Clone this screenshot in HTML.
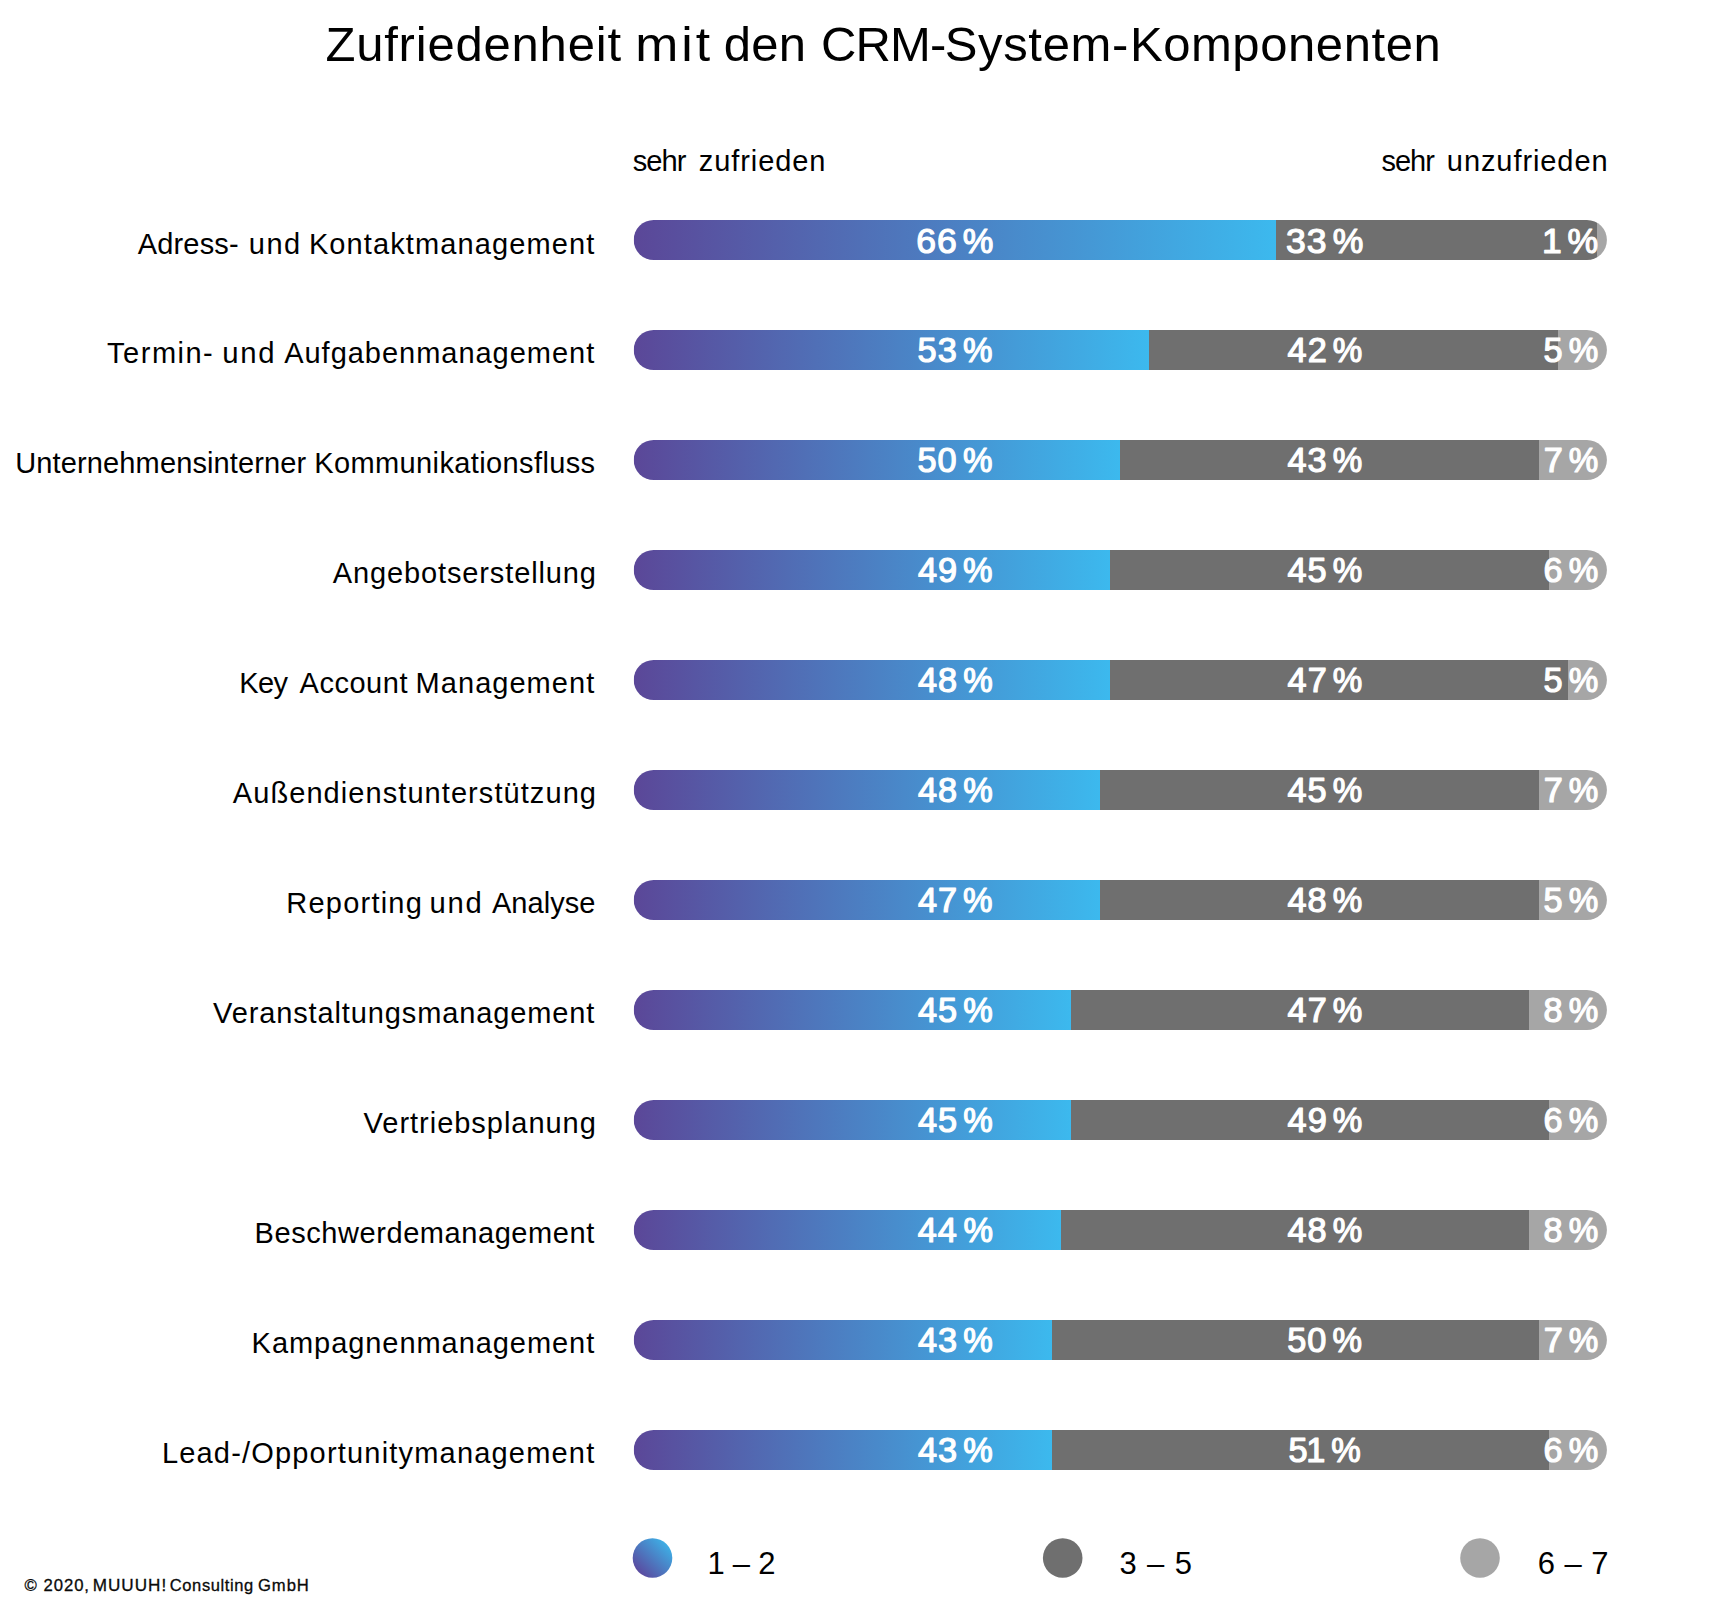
<!DOCTYPE html>
<html lang="de">
<head>
<meta charset="utf-8">
<title>Zufriedenheit mit den CRM-System-Komponenten</title>
<style>
html,body{margin:0;padding:0;background:#fff}
body{width:1713px;height:1610px;overflow:hidden;font-family:"Liberation Sans",Arial,sans-serif}
svg{display:block}
text{white-space:pre}
</style>
</head>
<body>
<svg width="1713" height="1610" viewBox="0 0 1713 1610" font-family="'Liberation Sans', Arial, sans-serif">
<defs>
<linearGradient id="gb" x1="0" y1="0" x2="1" y2="0"><stop offset="0" stop-color="#5b4798"/><stop offset="1" stop-color="#3cb9ee"/></linearGradient>
<linearGradient id="gc" x1="0.15" y1="0.85" x2="0.85" y2="0.15"><stop offset="0" stop-color="#5a4ba0"/><stop offset="1" stop-color="#3eade4"/></linearGradient>
<clipPath id="c0"><rect x="633.7" y="220" width="973.2" height="40" rx="20" ry="20"/></clipPath>
<clipPath id="c1"><rect x="633.7" y="330" width="973.2" height="40" rx="20" ry="20"/></clipPath>
<clipPath id="c2"><rect x="633.7" y="440" width="973.2" height="40" rx="20" ry="20"/></clipPath>
<clipPath id="c3"><rect x="633.7" y="550" width="973.2" height="40" rx="20" ry="20"/></clipPath>
<clipPath id="c4"><rect x="633.7" y="660" width="973.2" height="40" rx="20" ry="20"/></clipPath>
<clipPath id="c5"><rect x="633.7" y="770" width="973.2" height="40" rx="20" ry="20"/></clipPath>
<clipPath id="c6"><rect x="633.7" y="880" width="973.2" height="40" rx="20" ry="20"/></clipPath>
<clipPath id="c7"><rect x="633.7" y="990" width="973.2" height="40" rx="20" ry="20"/></clipPath>
<clipPath id="c8"><rect x="633.7" y="1100" width="973.2" height="40" rx="20" ry="20"/></clipPath>
<clipPath id="c9"><rect x="633.7" y="1210" width="973.2" height="40" rx="20" ry="20"/></clipPath>
<clipPath id="c10"><rect x="633.7" y="1320" width="973.2" height="40" rx="20" ry="20"/></clipPath>
<clipPath id="c11"><rect x="633.7" y="1430" width="973.2" height="40" rx="20" ry="20"/></clipPath>
</defs>
<rect width="1713" height="1610" fill="#fff"/>
<g clip-path="url(#c0)"><rect x="633.7" y="220" width="642.3" height="40" fill="url(#gb)"/><rect x="1276" y="220" width="321" height="40" fill="#6f6f6f"/><rect x="1597" y="220" width="10.9" height="40" fill="#a6a6a6"/></g>
<g clip-path="url(#c1)"><rect x="633.7" y="330" width="515.3" height="40" fill="url(#gb)"/><rect x="1149" y="330" width="409" height="40" fill="#6f6f6f"/><rect x="1558" y="330" width="49.9" height="40" fill="#a6a6a6"/></g>
<g clip-path="url(#c2)"><rect x="633.7" y="440" width="486.3" height="40" fill="url(#gb)"/><rect x="1120" y="440" width="419" height="40" fill="#6f6f6f"/><rect x="1539" y="440" width="68.9" height="40" fill="#a6a6a6"/></g>
<g clip-path="url(#c3)"><rect x="633.7" y="550" width="476.3" height="40" fill="url(#gb)"/><rect x="1110" y="550" width="439" height="40" fill="#6f6f6f"/><rect x="1549" y="550" width="58.9" height="40" fill="#a6a6a6"/></g>
<g clip-path="url(#c4)"><rect x="633.7" y="660" width="476.3" height="40" fill="url(#gb)"/><rect x="1110" y="660" width="458" height="40" fill="#6f6f6f"/><rect x="1568" y="660" width="39.9" height="40" fill="#a6a6a6"/></g>
<g clip-path="url(#c5)"><rect x="633.7" y="770" width="466.3" height="40" fill="url(#gb)"/><rect x="1100" y="770" width="439" height="40" fill="#6f6f6f"/><rect x="1539" y="770" width="68.9" height="40" fill="#a6a6a6"/></g>
<g clip-path="url(#c6)"><rect x="633.7" y="880" width="466.3" height="40" fill="url(#gb)"/><rect x="1100" y="880" width="439" height="40" fill="#6f6f6f"/><rect x="1539" y="880" width="68.9" height="40" fill="#a6a6a6"/></g>
<g clip-path="url(#c7)"><rect x="633.7" y="990" width="437.3" height="40" fill="url(#gb)"/><rect x="1071" y="990" width="458" height="40" fill="#6f6f6f"/><rect x="1529" y="990" width="78.9" height="40" fill="#a6a6a6"/></g>
<g clip-path="url(#c8)"><rect x="633.7" y="1100" width="437.3" height="40" fill="url(#gb)"/><rect x="1071" y="1100" width="478" height="40" fill="#6f6f6f"/><rect x="1549" y="1100" width="58.9" height="40" fill="#a6a6a6"/></g>
<g clip-path="url(#c9)"><rect x="633.7" y="1210" width="427.3" height="40" fill="url(#gb)"/><rect x="1061" y="1210" width="468" height="40" fill="#6f6f6f"/><rect x="1529" y="1210" width="78.9" height="40" fill="#a6a6a6"/></g>
<g clip-path="url(#c10)"><rect x="633.7" y="1320" width="418.3" height="40" fill="url(#gb)"/><rect x="1052" y="1320" width="487" height="40" fill="#6f6f6f"/><rect x="1539" y="1320" width="68.9" height="40" fill="#a6a6a6"/></g>
<g clip-path="url(#c11)"><rect x="633.7" y="1430" width="418.3" height="40" fill="url(#gb)"/><rect x="1052" y="1430" width="497" height="40" fill="#6f6f6f"/><rect x="1549" y="1430" width="58.9" height="40" fill="#a6a6a6"/></g>
<circle cx="652.5" cy="1558" r="19.8" fill="url(#gc)"/>
<circle cx="1062.7" cy="1558" r="19.8" fill="#6f6f6f"/>
<circle cx="1480" cy="1558" r="19.8" fill="#a6a6a6"/>
<text y="60.7" font-size="49" fill="#000"><tspan x="325.41" letter-spacing="0.798">Zufriedenheit</tspan> <tspan x="635.18" letter-spacing="2.842" textLength="77.88" lengthAdjust="spacingAndGlyphs">mit</tspan> <tspan x="723.85" letter-spacing="0.245">den</tspan> <tspan x="821.06" letter-spacing="-0.886">CRM-</tspan><tspan x="944.77" letter-spacing="0.642">System-</tspan><tspan x="1129.89" letter-spacing="0.571">Komponenten</tspan></text>
<text y="170.7" font-size="29" fill="#000"><tspan x="632.83" letter-spacing="-1.015" textLength="52.49" lengthAdjust="spacingAndGlyphs">sehr</tspan> <tspan x="698.87" letter-spacing="0.902">zufrieden</tspan></text>
<text y="170.7" font-size="29" fill="#000"><tspan x="1381.48" letter-spacing="-1.015" textLength="52.33" lengthAdjust="spacingAndGlyphs">sehr</tspan> <tspan x="1446.85" letter-spacing="0.919">unzufrieden</tspan></text>
<text y="253.9" font-size="29" fill="#000"><tspan x="137.68" letter-spacing="0.182">Adress-</tspan> <tspan x="248.85" letter-spacing="1.424">und</tspan> <tspan x="308.91" letter-spacing="1.106">Kontaktmanagement</tspan></text>
<text y="362.8" font-size="29" fill="#000"><tspan x="107.1" letter-spacing="1.501">Termin-</tspan> <tspan x="222.36" letter-spacing="1.682" textLength="54.00" lengthAdjust="spacingAndGlyphs">und</tspan> <tspan x="284.18" letter-spacing="0.976">Aufgabenmanagement</tspan></text>
<text y="472.8" font-size="29" fill="#000"><tspan x="15.31" letter-spacing="0.125">Unternehmensinterner</tspan> <tspan x="314.27" letter-spacing="0.381">Kommunikationsfluss</tspan></text>
<text y="582.8" font-size="29" fill="#000"><tspan x="332.8" letter-spacing="0.875">Angebotserstellung</tspan></text>
<text y="692.8" font-size="29" fill="#000"><tspan x="239.3" letter-spacing="-0.628">Key</tspan> <tspan x="299.54" letter-spacing="0.520">Account</tspan> <tspan x="415.62" letter-spacing="1.036">Management</tspan></text>
<text y="802.8" font-size="29" fill="#000"><tspan x="232.8" letter-spacing="1.070">Außendienstunterstützung</tspan></text>
<text y="912.8" font-size="29" fill="#000"><tspan x="286.3" letter-spacing="1.221">Reporting</tspan> <tspan x="429.53" letter-spacing="1.682" textLength="53.83" lengthAdjust="spacingAndGlyphs">und</tspan> <tspan x="491.97" letter-spacing="0.060">Analyse</tspan></text>
<text y="1022.8" font-size="29" fill="#000"><tspan x="213.07" letter-spacing="0.873">Veranstaltungsmanagement</tspan></text>
<text y="1132.8" font-size="29" fill="#000"><tspan x="363.62" letter-spacing="0.972">Vertriebsplanung</tspan></text>
<text y="1242.8" font-size="29" fill="#000"><tspan x="254.62" letter-spacing="0.565">Beschwerdemanagement</tspan></text>
<text y="1352.8" font-size="29" fill="#000"><tspan x="251.62" letter-spacing="0.940">Kampagnenmanagement</tspan></text>
<text y="1462.8" font-size="29" fill="#000"><tspan x="161.88" letter-spacing="1.189">Lead-/Opportunitymanagement</tspan></text>
<text y="252.75" font-size="35.6" fill="#fff" stroke="#fff" stroke-width="1.2" stroke-linejoin="round"><tspan x="916.19 936.99">66</tspan> <tspan x="962.8" textLength="30.63" lengthAdjust="spacingAndGlyphs">%</tspan></text>
<text y="252.75" font-size="35.6" fill="#fff" stroke="#fff" stroke-width="1.2" stroke-linejoin="round"><tspan x="1286.02 1306.82">33</tspan> <tspan x="1332.63" textLength="30.63" lengthAdjust="spacingAndGlyphs">%</tspan></text>
<text y="252.75" font-size="35.6" fill="#fff" stroke="#fff" stroke-width="1.2" stroke-linejoin="round"><tspan x="1541.97">1</tspan> <tspan x="1567.6" textLength="30.63" lengthAdjust="spacingAndGlyphs">%</tspan></text>
<text y="361.85" font-size="34.3" fill="#fff" stroke="#fff" stroke-width="1.2" stroke-linejoin="round"><tspan x="917.62 937.7">53</tspan> <tspan x="962.88" textLength="29.51" lengthAdjust="spacingAndGlyphs">%</tspan></text>
<text y="361.85" font-size="34.3" fill="#fff" stroke="#fff" stroke-width="1.2" stroke-linejoin="round"><tspan x="1287.62 1307.7">42</tspan> <tspan x="1332.67" textLength="29.51" lengthAdjust="spacingAndGlyphs">%</tspan></text>
<text y="361.85" font-size="34.3" fill="#fff" stroke="#fff" stroke-width="1.2" stroke-linejoin="round"><tspan x="1543.42">5</tspan> <tspan x="1568.68" textLength="29.51" lengthAdjust="spacingAndGlyphs">%</tspan></text>
<text y="471.85" font-size="34.3" fill="#fff" stroke="#fff" stroke-width="1.2" stroke-linejoin="round"><tspan x="917.54 937.61">50</tspan> <tspan x="962.97" textLength="29.51" lengthAdjust="spacingAndGlyphs">%</tspan></text>
<text y="471.85" font-size="34.3" fill="#fff" stroke="#fff" stroke-width="1.2" stroke-linejoin="round"><tspan x="1287.51 1307.59">43</tspan> <tspan x="1332.78" textLength="29.51" lengthAdjust="spacingAndGlyphs">%</tspan></text>
<text y="471.85" font-size="34.3" fill="#fff" stroke="#fff" stroke-width="1.2" stroke-linejoin="round"><tspan x="1543.71">7</tspan> <tspan x="1568.68" textLength="29.51" lengthAdjust="spacingAndGlyphs">%</tspan></text>
<text y="581.85" font-size="34.3" fill="#fff" stroke="#fff" stroke-width="1.2" stroke-linejoin="round"><tspan x="917.97 938.05">49</tspan> <tspan x="963.12" textLength="29.51" lengthAdjust="spacingAndGlyphs">%</tspan></text>
<text y="581.85" font-size="34.3" fill="#fff" stroke="#fff" stroke-width="1.2" stroke-linejoin="round"><tspan x="1287.48 1307.56">45</tspan> <tspan x="1332.81" textLength="29.51" lengthAdjust="spacingAndGlyphs">%</tspan></text>
<text y="581.85" font-size="34.3" fill="#fff" stroke="#fff" stroke-width="1.2" stroke-linejoin="round"><tspan x="1543.49">6</tspan> <tspan x="1568.68" textLength="29.51" lengthAdjust="spacingAndGlyphs">%</tspan></text>
<text y="691.85" font-size="34.3" fill="#fff" stroke="#fff" stroke-width="1.2" stroke-linejoin="round"><tspan x="917.9 937.98">48</tspan> <tspan x="963.18" textLength="29.51" lengthAdjust="spacingAndGlyphs">%</tspan></text>
<text y="691.85" font-size="34.3" fill="#fff" stroke="#fff" stroke-width="1.2" stroke-linejoin="round"><tspan x="1287.62 1307.7">47</tspan> <tspan x="1332.67" textLength="29.51" lengthAdjust="spacingAndGlyphs">%</tspan></text>
<text y="691.85" font-size="34.3" fill="#fff" stroke="#fff" stroke-width="1.2" stroke-linejoin="round"><tspan x="1543.42">5</tspan> <tspan x="1568.68" textLength="29.51" lengthAdjust="spacingAndGlyphs">%</tspan></text>
<text y="801.85" font-size="34.3" fill="#fff" stroke="#fff" stroke-width="1.2" stroke-linejoin="round"><tspan x="917.9 937.98">48</tspan> <tspan x="963.18" textLength="29.51" lengthAdjust="spacingAndGlyphs">%</tspan></text>
<text y="801.85" font-size="34.3" fill="#fff" stroke="#fff" stroke-width="1.2" stroke-linejoin="round"><tspan x="1287.48 1307.56">45</tspan> <tspan x="1332.81" textLength="29.51" lengthAdjust="spacingAndGlyphs">%</tspan></text>
<text y="801.85" font-size="34.3" fill="#fff" stroke="#fff" stroke-width="1.2" stroke-linejoin="round"><tspan x="1543.71">7</tspan> <tspan x="1568.68" textLength="29.51" lengthAdjust="spacingAndGlyphs">%</tspan></text>
<text y="911.85" font-size="34.3" fill="#fff" stroke="#fff" stroke-width="1.2" stroke-linejoin="round"><tspan x="918.02 938.1">47</tspan> <tspan x="963.07" textLength="29.51" lengthAdjust="spacingAndGlyphs">%</tspan></text>
<text y="911.85" font-size="34.3" fill="#fff" stroke="#fff" stroke-width="1.2" stroke-linejoin="round"><tspan x="1287.5 1307.58">48</tspan> <tspan x="1332.78" textLength="29.51" lengthAdjust="spacingAndGlyphs">%</tspan></text>
<text y="911.85" font-size="34.3" fill="#fff" stroke="#fff" stroke-width="1.2" stroke-linejoin="round"><tspan x="1543.42">5</tspan> <tspan x="1568.68" textLength="29.51" lengthAdjust="spacingAndGlyphs">%</tspan></text>
<text y="1021.85" font-size="34.3" fill="#fff" stroke="#fff" stroke-width="1.2" stroke-linejoin="round"><tspan x="917.88 937.96">45</tspan> <tspan x="963.21" textLength="29.51" lengthAdjust="spacingAndGlyphs">%</tspan></text>
<text y="1021.85" font-size="34.3" fill="#fff" stroke="#fff" stroke-width="1.2" stroke-linejoin="round"><tspan x="1287.62 1307.7">47</tspan> <tspan x="1332.67" textLength="29.51" lengthAdjust="spacingAndGlyphs">%</tspan></text>
<text y="1021.85" font-size="34.3" fill="#fff" stroke="#fff" stroke-width="1.2" stroke-linejoin="round"><tspan x="1543.47">8</tspan> <tspan x="1568.68" textLength="29.51" lengthAdjust="spacingAndGlyphs">%</tspan></text>
<text y="1131.85" font-size="34.3" fill="#fff" stroke="#fff" stroke-width="1.2" stroke-linejoin="round"><tspan x="917.88 937.96">45</tspan> <tspan x="963.21" textLength="29.51" lengthAdjust="spacingAndGlyphs">%</tspan></text>
<text y="1131.85" font-size="34.3" fill="#fff" stroke="#fff" stroke-width="1.2" stroke-linejoin="round"><tspan x="1287.57 1307.65">49</tspan> <tspan x="1332.72" textLength="29.51" lengthAdjust="spacingAndGlyphs">%</tspan></text>
<text y="1131.85" font-size="34.3" fill="#fff" stroke="#fff" stroke-width="1.2" stroke-linejoin="round"><tspan x="1543.49">6</tspan> <tspan x="1568.68" textLength="29.51" lengthAdjust="spacingAndGlyphs">%</tspan></text>
<text y="1241.85" font-size="34.3" fill="#fff" stroke="#fff" stroke-width="1.2" stroke-linejoin="round"><tspan x="917.66 937.74">44</tspan> <tspan x="963.43" textLength="29.51" lengthAdjust="spacingAndGlyphs">%</tspan></text>
<text y="1241.85" font-size="34.3" fill="#fff" stroke="#fff" stroke-width="1.2" stroke-linejoin="round"><tspan x="1287.5 1307.58">48</tspan> <tspan x="1332.78" textLength="29.51" lengthAdjust="spacingAndGlyphs">%</tspan></text>
<text y="1241.85" font-size="34.3" fill="#fff" stroke="#fff" stroke-width="1.2" stroke-linejoin="round"><tspan x="1543.47">8</tspan> <tspan x="1568.68" textLength="29.51" lengthAdjust="spacingAndGlyphs">%</tspan></text>
<text y="1351.85" font-size="34.3" fill="#fff" stroke="#fff" stroke-width="1.2" stroke-linejoin="round"><tspan x="917.91 937.99">43</tspan> <tspan x="963.18" textLength="29.51" lengthAdjust="spacingAndGlyphs">%</tspan></text>
<text y="1351.85" font-size="34.3" fill="#fff" stroke="#fff" stroke-width="1.2" stroke-linejoin="round"><tspan x="1287.14 1307.21">50</tspan> <tspan x="1332.57" textLength="29.51" lengthAdjust="spacingAndGlyphs">%</tspan></text>
<text y="1351.85" font-size="34.3" fill="#fff" stroke="#fff" stroke-width="1.2" stroke-linejoin="round"><tspan x="1543.71">7</tspan> <tspan x="1568.68" textLength="29.51" lengthAdjust="spacingAndGlyphs">%</tspan></text>
<text y="1461.85" font-size="34.3" fill="#fff" stroke="#fff" stroke-width="1.2" stroke-linejoin="round"><tspan x="917.91 937.99">43</tspan> <tspan x="963.18" textLength="29.51" lengthAdjust="spacingAndGlyphs">%</tspan></text>
<text y="1461.85" font-size="34.3" fill="#fff" stroke="#fff" stroke-width="1.2" stroke-linejoin="round"><tspan x="1288.5 1306.18">51</tspan> <tspan x="1331.2" textLength="29.51" lengthAdjust="spacingAndGlyphs">%</tspan></text>
<text y="1461.85" font-size="34.3" fill="#fff" stroke="#fff" stroke-width="1.2" stroke-linejoin="round"><tspan x="1543.49">6</tspan> <tspan x="1568.68" textLength="29.51" lengthAdjust="spacingAndGlyphs">%</tspan></text>
<text y="1573.8" font-size="31" fill="#000"><tspan x="707.54" letter-spacing="-0.263">1 – 2</tspan></text>
<text y="1573.8" font-size="31" fill="#000"><tspan x="1119.54" letter-spacing="0.858">3 – 5</tspan></text>
<text y="1573.8" font-size="31" fill="#000"><tspan x="1537.69" letter-spacing="0.454">6 – 7</tspan></text>
<text y="1590.8" font-size="16.5" fill="#0a0a0a" stroke="#0a0a0a" stroke-width="0.3"><tspan x="24.55" letter-spacing="0.957" textLength="65.43" lengthAdjust="spacingAndGlyphs">© 2020,</tspan> <tspan x="92.78" letter-spacing="0.957" textLength="74.39" lengthAdjust="spacingAndGlyphs">MUUUH!</tspan> <tspan x="169.81" letter-spacing="0.610">Consulting</tspan> <tspan x="257.94" letter-spacing="0.957" textLength="51.90" lengthAdjust="spacingAndGlyphs">GmbH</tspan></text>
</svg>
</body>
</html>
